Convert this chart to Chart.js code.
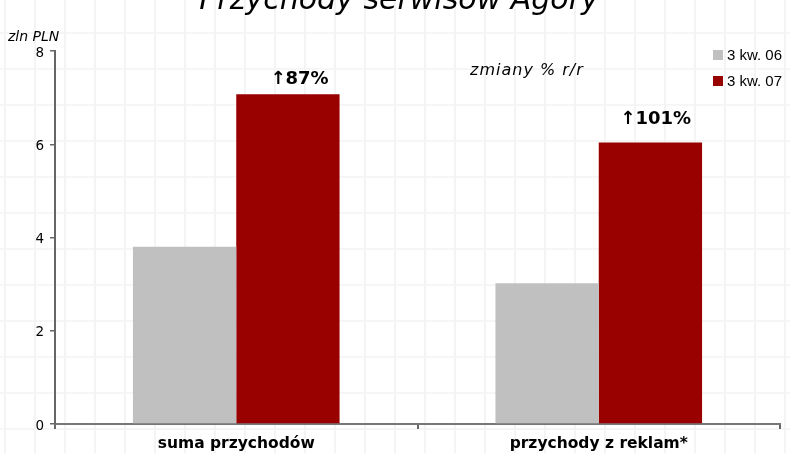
<!DOCTYPE html>
<html>
<head>
<meta charset="utf-8">
<script src="https://cdn.jsdelivr.net/npm/chart.js@4.4.0/dist/chart.umd.min.js"></script>
<style>
  html, body { margin:0; padding:0; }
  body {
    width:790px; height:453px; overflow:hidden;
    background-color:#fff;
    background-image:
      repeating-linear-gradient(90deg, transparent 0px, transparent 4px, #f4f4f4 4px, #f4f4f4 6px, transparent 6px, transparent 30px),
      repeating-linear-gradient(0deg, transparent 0px, transparent 23px, #f6f6f6 23px, #f6f6f6 25px, transparent 25px, transparent 36px);
  }
  #wrap { position:absolute; left:0; top:0; width:790px; height:453px; }
</style>
</head>
<body>
<div id="wrap"><canvas id="c" width="790" height="453"></canvas></div>
<script>
const title = "Przychody serwisów Agory";
const unitLabel = "zln PLN";
const noteLabel = "zmiany % r/r";
const categories = ["suma przychodów", "przychody z reklam*"];
const seriesNames = ["3 kw. 06", "3 kw. 07"];
const q3_2006 = [3.8, 3.02];
const q3_2007 = [7.07, 6.04];
const changeLabels = ["\u219187%", "\u2191101%"];
const yTicks = [0, 2, 4, 6, 8];

const overlay = {
  id: 'overlay',
  afterDraw(chart) {
    const ctx = chart.ctx;
    ctx.save();
    ctx.fillStyle = '#000';
    // title (mostly cut off at the top edge)
    ctx.font = 'italic 30px "DejaVu Sans"';
    ctx.textAlign = 'center';
    ctx.textBaseline = 'alphabetic';
    ctx.fillText(title, 399, 9);
    // unit
    ctx.font = 'italic 14px "DejaVu Sans"';
    ctx.textAlign = 'left';
    ctx.fillText(unitLabel, 8, 41);
    // note
    ctx.font = 'italic 16px "DejaVu Sans"';
    ctx.letterSpacing = '1px';
    ctx.fillText(noteLabel, 470, 75);
    ctx.letterSpacing = '0px';
    // change labels above 2007 bars
    const meta = chart.getDatasetMeta(1);
    const gaps = [10, 18];
    ctx.font = 'bold 18px "DejaVu Sans"';
    ctx.textAlign = 'right';
    meta.data.forEach((bar, i) => {
      ctx.fillText(changeLabels[i], bar.x + bar.width / 2 - 11, bar.y - gaps[i]);
    });
    // legend
    ctx.font = '15px "Liberation Sans"';
    ctx.textAlign = 'left';
    ctx.textBaseline = 'middle';
    chart.data.datasets.forEach((ds, i) => {
      const y = 55 + i * 26;
      ctx.fillStyle = ds.backgroundColor;
      ctx.fillRect(713, y - 5, 10, 10);
      ctx.fillStyle = '#000';
      ctx.fillText(ds.label, 727, y + 1);
    });
    ctx.restore();
  }
};

new Chart(document.getElementById('c'), {
  type: 'bar',
  data: {
    labels: categories,
    datasets: [
      { label: seriesNames[0], data: q3_2006, backgroundColor: '#C0C0C0' },
      { label: seriesNames[1], data: q3_2007, backgroundColor: '#990000' }
    ]
  },
  options: {
    responsive: false,
    animation: false,
    layout: { padding: { top: 51, right: 10, left: 0, bottom: 0 } },
    datasets: { bar: { categoryPercentage: 0.57, barPercentage: 1.0 } },
    plugins: { legend: { display: false }, title: { display: false }, tooltip: { enabled: false } },
    scales: {
      x: {
        grid: { offset: true, drawOnChartArea: false, drawTicks: true, tickLength: 5, color: '#666', lineWidth: 2 },
        border: { color: '#777', width: 2 },
        ticks: { color: '#000', font: { family: '"DejaVu Sans"', size: 15.5, weight: 'bold' }, padding: 6 },
        afterFit(scale) { scale.height = 29; }
      },
      y: {
        min: 0, max: 8,
        afterBuildTicks(scale) { scale.ticks = yTicks.map(v => ({ value: v })); },
        grid: { drawOnChartArea: false, drawTicks: true, tickLength: 5, color: '#666', lineWidth: 1.5 },
        border: { color: '#666', width: 2 },
        ticks: { color: '#000', font: { family: '"DejaVu Sans"', size: 13.5 }, padding: 6, labelOffset: 2 },
        afterFit(scale) { scale.width = 55; }
      }
    }
  },
  plugins: [overlay]
});
</script>
</body>
</html>
